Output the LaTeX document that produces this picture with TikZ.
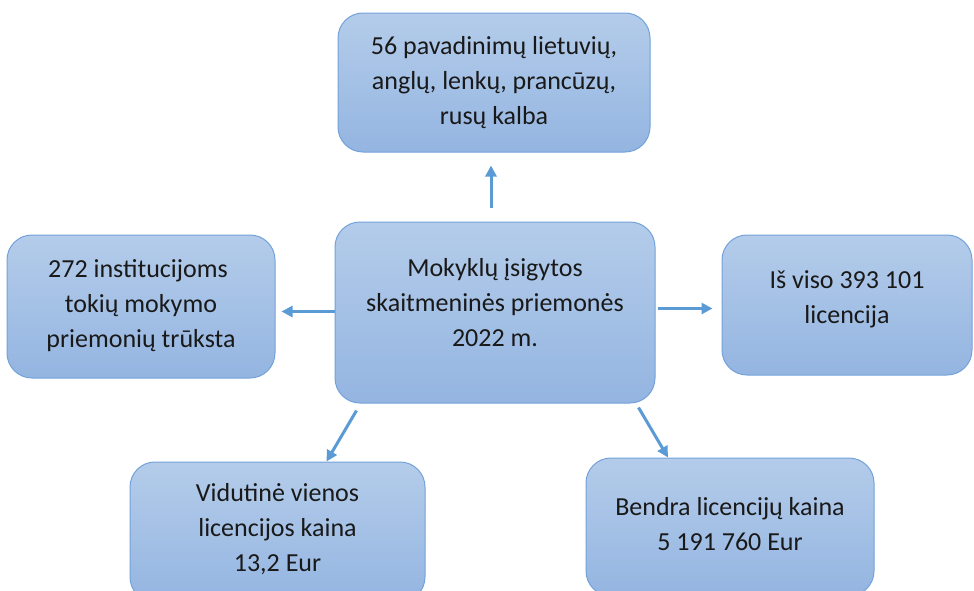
\documentclass[tikz,border=0pt]{standalone}
\usepackage{fontspec}
\setmainfont{Carlito}
\usetikzlibrary{arrows.meta}
\definecolor{boxtop}{HTML}{B4CCEA}
\definecolor{boxbot}{HTML}{94B5E1}
\definecolor{boxline}{HTML}{72A2D9}
\definecolor{arrblue}{HTML}{5B9BD5}
\tikzset{>={Triangle[length=11pt,width=11pt]},
  box/.style={rectangle, rounded corners=25pt, draw=boxline, line width=1pt,
    top color=boxtop, bottom color=boxbot, inner sep=0pt},
  txt/.style={align=center, text=black!90, font=\fontsize{26}{35}\selectfont},
  arr/.style={->, draw=arrblue, line width=3pt}}
\begin{document}
\begin{tikzpicture}[x=1pt,y=-1pt]
\useasboundingbox (0,0) rectangle (974,590);
\clip (0,0) rectangle (974,590);
\node[box, minimum width=312pt, minimum height=139pt] (top) at (494,82.5) {};
\node[box, minimum width=268pt, minimum height=143pt] (left) at (141,306.5) {};
\node[box, minimum width=320pt, minimum height=181pt] (mid) at (495,312.5) {};
\node[box, minimum width=250pt, minimum height=140pt] (right) at (847,305) {};
\node[box, minimum width=295pt, minimum height=140pt] (vid) at (277.5,532) {};
\node[box, minimum width=288pt, minimum height=138pt] (bendra) at (730,527) {};
\node[txt] (toptxt) at (top) {56 pavadinimų lietuvių,\\anglų, lenkų, prancūzų,\\rusų kalba};
\node[txt] (lefttxt) at ([yshift=1pt]left.center) {272 institucijoms\hspace*{6pt}\\tokių mokymo\\priemonių trūksta};
\node[txt] (midtxt) at ([yshift=10pt]mid.center) {Mokyklų įsigytos\\skaitmeninės priemonės\\2022 m.};
\node[txt] (righttxt) at ([yshift=6pt]right.center) {Iš viso 393 101\\licencija};
\node[txt] (vidtxt) at ([yshift=3pt]vid.center) {Vidutinė vienos\\licencijos kaina\\13,2 Eur};
\node[txt] (bendratxt) at ([yshift=3pt]bendra.center) {Bendra licencijų kaina\\5 191 760 Eur};
% rodyklės
\draw[arr, shorten <=14pt, shorten >=13pt] ([xshift=-4pt]mid.north) -- ([xshift=-4pt]mid.north |- top.south);
\draw[arr, shorten >=6pt] ([yshift=1pt]mid.west) -- ([yshift=1pt]mid.west -| left.east);
\draw[arr, shorten <=2pt, shorten >=9pt] ([yshift=4pt]mid.east) -- ([yshift=4pt]mid.east -| right.west);
\draw[arr] ([xshift=22pt,yshift=-7pt]mid.south west) -- ([xshift=49pt]vid.north);
\draw[arr] ([xshift=-17pt,yshift=-4pt]mid.south east) -- ([xshift=-62pt]bendra.north);
\end{tikzpicture}
\end{document}
